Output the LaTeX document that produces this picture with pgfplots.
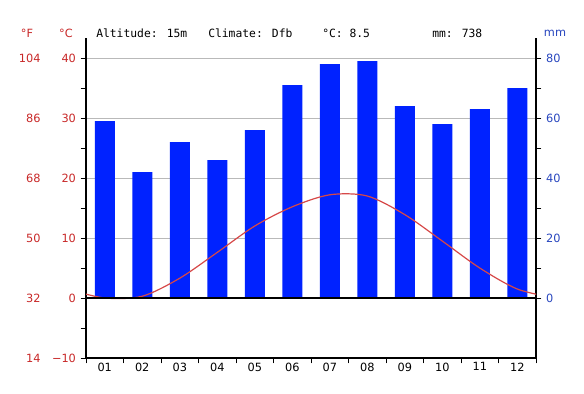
\documentclass[border=0pt]{standalone}
\usepackage{pgfplots}
\pgfplotsset{compat=1.18}
\usepackage{fontspec}
\setmainfont{DejaVu Sans}
\newfontfamily\monofont{DejaVu Sans Mono}
\definecolor{barblue}{RGB}{0,34,255}
\definecolor{tempred}{RGB}{214,72,72}
\definecolor{labred}{RGB}{200,40,40}
\definecolor{labblue}{RGB}{40,70,190}
\definecolor{gridgray}{RGB}{185,185,185}
\begin{document}
\begin{tikzpicture}[font=\fontsize{8.5}{10}\selectfont]
\path[use as bounding box] (-64.5pt,-26.25pt) rectangle (373.5pt,268.5pt);
\pgfplotsset{
 common/.style={width=337.5pt,height=240pt,scale only axis,
   xmin=0.5,xmax=12.5,
   /pgf/number format/assume math mode=true,
   tick style={black, line width=0.6pt},
   axis line style={line width=0.8pt},
   tick align=outside}
}
% precipitation (mm)
\begin{axis}[common, ymin=-20, ymax=86.6667,
  axis x line=none, axis y line*=right,
  ytick={0,20,40,60,80}, minor ytick={10,30,50,70},
  ymajorgrids, grid style={gridgray, line width=0.6pt},
  major tick length=4pt, minor tick length=4pt,
  yticklabel style={labblue}]
\addplot[ybar, bar width=15pt, fill=barblue, draw=none] coordinates {
(1,59) (2,42) (3,52) (4,46) (5,56) (6,71) (7,78) (8,79) (9,64) (10,58) (11,63) (12,70)};
\end{axis}
% temperature (C)
\begin{axis}[common, ymin=-10, ymax=43.3333,
  axis x line*=bottom, axis y line*=left,
  xtick={0.5,1.5,...,12.5}, xticklabels={},
  extra x ticks={1,2,3,4,5,6,7,8,9,10,11,12},
  extra x tick labels={01,02,03,04,05,06,07,08,09,10,11,12},
  extra x tick style={major tick length=0pt},
  ytick={-10,0,10,20,30,40}, yticklabels={−10,0,10,20,30,40},
  minor ytick={-5,5,15,25,35},
  major tick length=4pt, minor tick length=4pt,
  yticklabel style={labred}]
\addplot[tempred, line width=0.9pt, smooth] coordinates {
(0,1.5) (1,0.0) (2,0.3) (3,3.3) (4,7.6) (5,12.0) (6,15.2) (7,17.2) (8,17.0) (9,13.9) (10,9.5) (11,5.0) (12,1.5) (13,0.0)};
\addplot[black, line width=0.8pt] coordinates {(0.5,0) (12.5,0)};
\end{axis}
% Fahrenheit labels
\begin{axis}[common, ymin=14, ymax=110,
  axis x line=none, axis y line*=left, y axis line style={draw=none},
  ytick={14,32,50,68,86,104}, major tick length=0pt,
  yticklabel style={labred, xshift=-30.5pt}]
\addplot[draw=none] coordinates {(1,50)};
\end{axis}
\begin{scope}[every node/.style={anchor=west, inner sep=0pt, font=\monofont\fontsize{8.5}{10}\selectfont}]
\node at (7.5pt,243.75pt) {Altitude: 15m};
\node at (91.5pt,243.75pt) {Climate: Dfb};
\node at (177pt,243.75pt) {°C: 8.5};
\node at (259.5pt,243.75pt) {mm: 738};
\end{scope}
\node[labred] at (-44.25pt,243.75pt) {°F};
\node[labred] at (-15pt,243.75pt) {°C};
\node[labblue] at (351.75pt,243.75pt) {mm};
\end{tikzpicture}
\end{document}
